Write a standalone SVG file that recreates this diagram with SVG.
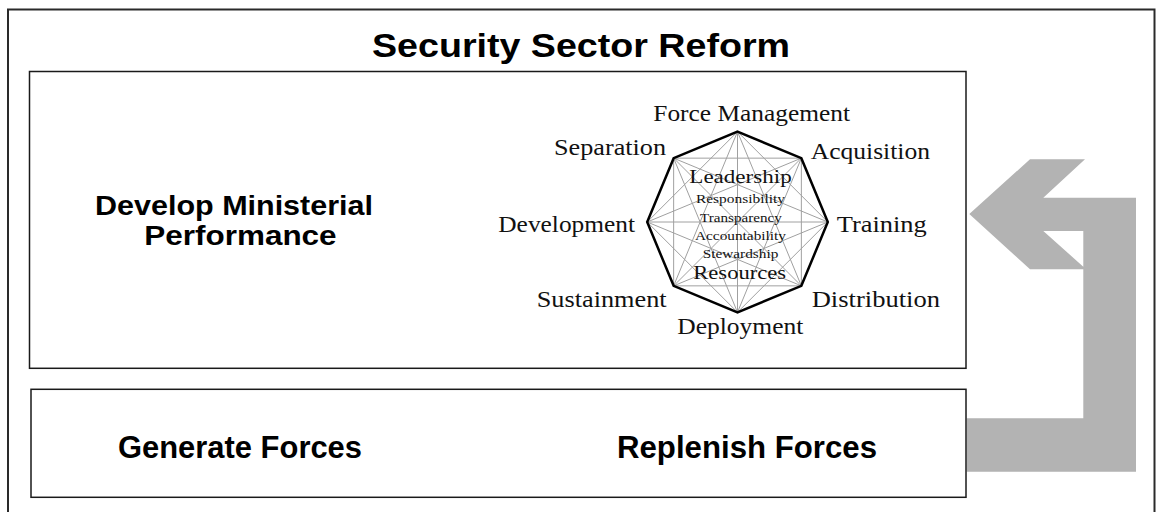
<svg xmlns="http://www.w3.org/2000/svg" width="1158" height="512" viewBox="0 0 1158 512">
  <style>
    .box { fill: none; stroke: #1a1a1a; stroke-width: 1.5; }
    .frame { fill: none; stroke: #2a2a2a; stroke-width: 2; }
    .sans { font-family: "Liberation Sans", Arial, Helvetica, sans-serif; font-weight: bold; fill: #000; }
    .serif { font-family: "Liberation Serif", "Times New Roman", serif; fill: #111; }
    .lbl { font-size: 23px; }
    .big { font-size: 19px; }
    .small { font-size: 13px; }
    .chord { fill: none; stroke: #a0a0a0; stroke-width: 1; }
    .oct { fill: none; stroke: #000; stroke-width: 2.5; stroke-linejoin: miter; }
    .arrow { fill: #b3b3b3; fill-rule: evenodd; stroke: none; }
  </style>
  <rect width="1158" height="512" fill="#fff"/>

  <g id="frame">
    <rect class="frame" x="8" y="9.5" width="1146.5" height="520"/>
    <text class="sans" x="372" y="57" font-size="34" textLength="418" lengthAdjust="spacingAndGlyphs">Security Sector Reform</text>
  </g>

  <g id="connectors">
    <path class="arrow" d="M969.3,214 L1030,159.3 L1085,159.3 L1043.3,197.7 L1136,197.7 L1136,471.7 L966.7,471.7 L966.7,418.3 L1083.3,418.3 L1083.3,269.3 L1030,269.3 Z M1043.3,231 L1083.3,231 L1083.3,266.7 Z"/>
  </g>

  <g id="node-ministerial">
    <rect class="box" x="29.5" y="71.5" width="936.5" height="296.8"/>
    <text class="sans" x="95" y="215" font-size="27" textLength="278" lengthAdjust="spacingAndGlyphs">Develop Ministerial</text>
    <text class="sans" x="144.3" y="245" font-size="27" textLength="192.3" lengthAdjust="spacingAndGlyphs">Performance</text>
  </g>

  <g id="node-octagon">
    <path class="chord" d="M737.5,131.7 L827.8,222 M801.35,158.15 L801.35,285.85 M827.8,222 L737.5,312.3 M801.35,285.85 L673.65,285.85 M737.5,312.3 L647.2,222 M673.65,285.85 L673.65,158.15 M647.2,222 L737.5,131.7 M673.65,158.15 L801.35,158.15
      M737.5,131.7 L801.35,285.85 M801.35,158.15 L737.5,312.3 M827.8,222 L673.65,285.85 M801.35,285.85 L647.2,222 M737.5,312.3 L673.65,158.15 M673.65,285.85 L737.5,131.7 M647.2,222 L801.35,158.15 M673.65,158.15 L827.8,222
      M737.5,131.7 L737.5,312.3 M801.35,158.15 L673.65,285.85 M827.8,222 L647.2,222 M801.35,285.85 L673.65,158.15"/>
    <polygon class="oct" points="737.5,131.7 801.35,158.15 827.8,222 801.35,285.85 737.5,312.3 673.65,285.85 647.2,222 673.65,158.15"/>
    <text class="serif big" x="689.3" y="183.3" textLength="102.4" lengthAdjust="spacingAndGlyphs">Leadership</text>
    <text class="serif small" x="696" y="202.7" textLength="89" lengthAdjust="spacingAndGlyphs">Responsibility</text>
    <text class="serif small" x="700" y="221.7" textLength="81.7" lengthAdjust="spacingAndGlyphs">Transparency</text>
    <text class="serif small" x="695" y="240" textLength="91" lengthAdjust="spacingAndGlyphs">Accountability</text>
    <text class="serif small" x="702.7" y="258.3" textLength="75.6" lengthAdjust="spacingAndGlyphs">Stewardship</text>
    <text class="serif big" x="693.3" y="279.3" textLength="92.7" lengthAdjust="spacingAndGlyphs">Resources</text>
  </g>

  <g id="node-labels">
    <text class="serif lbl" x="653.3" y="121" textLength="196.7" lengthAdjust="spacingAndGlyphs">Force Management</text>
    <text class="serif lbl" x="554" y="155" textLength="112" lengthAdjust="spacingAndGlyphs">Separation</text>
    <text class="serif lbl" x="810.7" y="159" textLength="119.3" lengthAdjust="spacingAndGlyphs">Acquisition</text>
    <text class="serif lbl" x="498.3" y="231.7" textLength="136.7" lengthAdjust="spacingAndGlyphs">Development</text>
    <text class="serif lbl" x="836.7" y="231.7" textLength="90" lengthAdjust="spacingAndGlyphs">Training</text>
    <text class="serif lbl" x="536.7" y="306.7" textLength="130" lengthAdjust="spacingAndGlyphs">Sustainment</text>
    <text class="serif lbl" x="811.7" y="306.7" textLength="128.3" lengthAdjust="spacingAndGlyphs">Distribution</text>
    <text class="serif lbl" x="677.3" y="334.3" textLength="126" lengthAdjust="spacingAndGlyphs">Deployment</text>
  </g>

  <g id="node-forces">
    <rect class="box" x="31" y="389.3" width="935" height="108"/>
    <text class="sans" x="118" y="458" font-size="31" textLength="244" lengthAdjust="spacingAndGlyphs">Generate Forces</text>
    <text class="sans" x="617" y="458" font-size="31" textLength="260" lengthAdjust="spacingAndGlyphs">Replenish Forces</text>
  </g>
</svg>
